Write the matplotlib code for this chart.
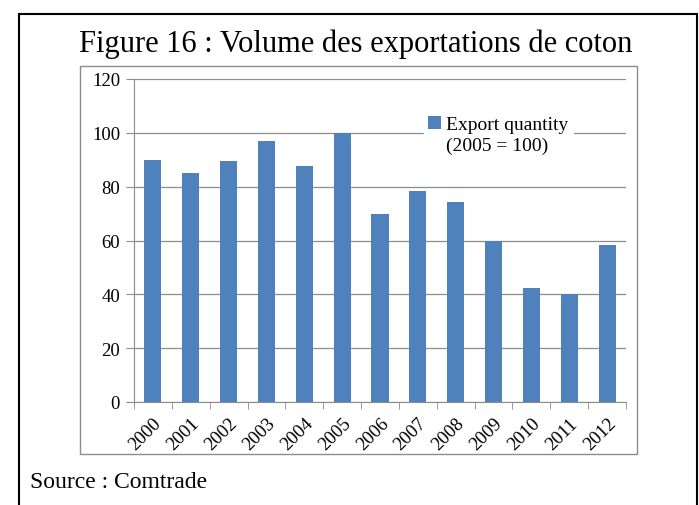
import matplotlib
matplotlib.use("Agg")
import matplotlib.pyplot as plt
from matplotlib.patches import Rectangle, Patch
import numpy as np

years = ["2000", "2001", "2002", "2003", "2004", "2005", "2006", "2007",
         "2008", "2009", "2010", "2011", "2012"]
values = [90, 85, 89.7, 97, 87.7, 100, 70, 78.4, 74.3, 60, 42.3, 40, 58.4]
yticks = [0, 20, 40, 60, 80, 100, 120]

plt.rcParams['font.family'] = ['Liberation Serif', 'DejaVu Serif']

W, H = 699, 506
fig = plt.figure(figsize=(W / 100, H / 100), dpi=100)

def fx(px):
    return px / W

def fy(py):
    return 1 - py / H

# outer black frame
fig.patches.append(Rectangle((fx(19), fy(520)), fx(697) - fx(19), fy(15) - fy(520),
                             transform=fig.transFigure, fill=False,
                             edgecolor='black', linewidth=1.5))
# chart area gray frame
fig.patches.append(Rectangle((fx(80), fy(455)), fx(637) - fx(80), fy(67) - fy(455),
                             transform=fig.transFigure, fill=False,
                             edgecolor='#8c8c8c', linewidth=1.0))

fig.text(fx(356), fy(44), "Figure 16 : Volume des exportations de coton",
         ha='center', va='center', fontsize=22)
fig.text(fx(30), fy(483), "Source : Comtrade", ha='left', va='center', fontsize=17)

ax = fig.add_axes([fx(134), fy(403), fx(626) - fx(134), fy(80) - fy(403)])
x = np.arange(len(years))
ax.bar(x, values, width=0.45, color='#4f81bd', zorder=3)
ax.set_xlim(-0.5, len(years) - 0.5)
ax.set_ylim(0, 120)
ax.set_yticks(yticks)
ax.set_yticklabels([str(v) for v in yticks], fontsize=13.5)
ax.yaxis.grid(True, color='#8c8c8c', linewidth=0.9, zorder=0)
ax.set_xticks(x)
ax.set_xticklabels(years, rotation=45, ha='right', rotation_mode='anchor', fontsize=13.5)
ax.tick_params(axis='x', length=0, pad=9)
ax.set_xticks(np.arange(-0.5, len(years), 1), minor=True)
ax.tick_params(axis='x', which='minor', length=5, color='#8c8c8c')
ax.tick_params(axis='y', length=6, color='#8c8c8c', pad=4)
for s in ['top', 'right']:
    ax.spines[s].set_visible(False)
for s in ['left', 'bottom']:
    ax.spines[s].set_color('#8c8c8c')

handles = [Patch(facecolor='#4f81bd', edgecolor='none'),
           Patch(facecolor='none', edgecolor='none')]
labels = ['Export quantity', '(2005 = 100)']
leg = ax.legend(handles, labels, loc='upper left',
                bbox_to_anchor=((424 - 134) / (626 - 134), (403 - 113) / 323),
                frameon=True, fontsize=14, handlelength=0.65, handleheight=0.65,
                handletextpad=0.3, borderpad=0.2, borderaxespad=0, labelspacing=0.15)
leg.get_frame().set_edgecolor('white')
leg.get_frame().set_facecolor('white')
leg.get_frame().set_alpha(1)
leg.get_frame().set_boxstyle('square', pad=0)
leg.set_zorder(5)

fig.savefig("out.png", dpi=100)
